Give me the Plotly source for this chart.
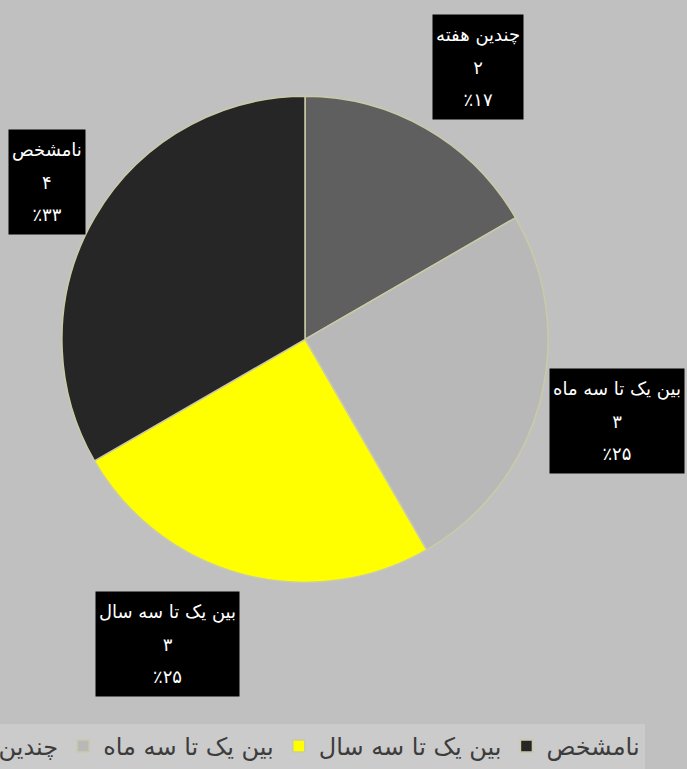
import math
import plotly.graph_objects as go

# ---- data ----
categories = ["چندین هفته", "بین یک تا سه ماه", "بین یک تا سه سال", "نامشخص"]
values = [2, 3, 3, 4]
colors = ["#5f5f5f", "#b8b8b8", "#ffff00", "#262626"]

# ---- layout constants (px) ----
VIEW_W, H = 687, 769
OFF_L, OFF_R = 220, 60          # hidden area left/right of the visible window
W = VIEW_W + OFF_L + OFF_R
CX, CY, R = 305 + OFF_L, 342, 245
GAP_X, GAP_Y = 8, 20
BOX_H = 98
BOX_PAD = 3

FA = str.maketrans("0123456789", "۰۱۲۳۴۵۶۷۸۹")
def fa(n):
    return str(n).translate(FA)

total = sum(values)
pcts = [round(v * 100 / total) for v in values]

fig = go.Figure(go.Pie(
    labels=categories,
    values=values,
    sort=False,
    direction="clockwise",
    rotation=0,
    textinfo="none",
    hoverinfo="label+value+percent",
    marker=dict(colors=colors, line=dict(color="#cacaa6", width=1.5)),
    domain=dict(x=[(CX - R) / W, (CX + R) / W], y=[(H - CY - R) / H, (H - CY + R) / H]),
))

# data labels at the outer end of each slice's mid angle
annotations = []
cum = 0
span = lambda t: f"<span style='font-size:18px'>{t}</span>"
for cat, v, p in zip(categories, values, pcts):
    mid = (cum + v / 2) / total * 2 * math.pi
    cum += v
    s, c = math.sin(mid), math.cos(mid)
    px = CX + (R + GAP_X) * s
    py = (H - CY) + (R + GAP_Y) * c
    xa = "left" if s > 0.15 else ("right" if s < -0.15 else "center")
    annotations.append(dict(
        x=px / W, y=py / H, xref="paper", yref="paper",
        xanchor=xa, yanchor="middle", yshift=c * (BOX_H / 2 + BOX_PAD),
        showarrow=False,
        text=f"{span(cat)}<br><br>{span(fa(v))}<br><br>{span('٪' + fa(p))}",
        font=dict(family="DejaVu Sans", size=12.5, color="#ffffff"),
        bgcolor="#000000", borderpad=BOX_PAD, height=BOX_H, align="center", valign="middle",
    ))

fig.update_layout(
    width=W, height=H, autosize=False,
    margin=dict(l=0, r=0, t=0, b=0),
    paper_bgcolor="#c0c0c0", plot_bgcolor="#c0c0c0",
    font=dict(family="DejaVu Sans", color="#3c3c3c"),
    annotations=annotations,
    showlegend=True,
    legend=dict(
        orientation="h", x=(645 + OFF_L) / W, xanchor="right",
        y=(H - 730) / H, yanchor="top",
        bgcolor="#cbcbcb", font=dict(family="DejaVu Sans", size=24, color="#3c3c3c"),
        traceorder="normal",
    ),
)

post = ("document.documentElement.style.overflow='hidden';"
        "document.body.style.overflow='hidden';document.body.style.margin='0';"
        "document.getElementById('{plot_id}').style.marginLeft='-" + str(OFF_L) + "px';")
fig.write_html("out.html", post_script=[post])
